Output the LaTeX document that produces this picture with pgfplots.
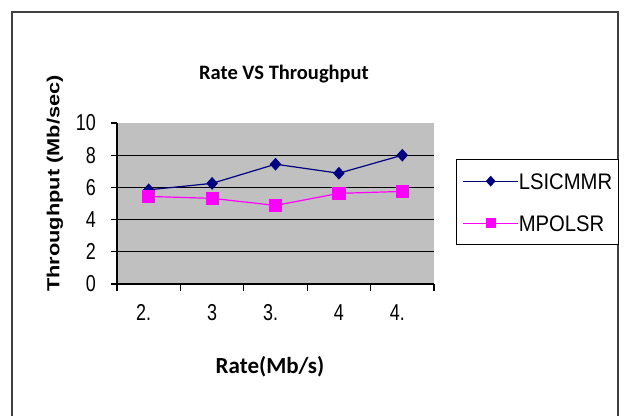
\documentclass[border=0pt]{standalone}
\usepackage{fontspec}
\setmainfont{Liberation Sans}
\newfontfamily\ticknarrow[FakeStretch=0.78]{Liberation Sans}
\newfontfamily\legnarrow[FakeStretch=0.9]{Liberation Sans}
\newfontfamily\calfont{Carlito}
\usepackage{graphicx}
\usepackage{pgfplots}
\pgfplotsset{compat=1.18}
\definecolor{plotgray}{HTML}{C0C0C0}
\definecolor{navyc}{HTML}{000080}
\definecolor{magc}{HTML}{FF00FF}
\definecolor{framegray}{HTML}{404040}

\pgfplotstableread{
x y
0 5.85
1 6.25
2 7.44
3 6.88
4 8.0
}\lsicmmr
\pgfplotstableread{
x y
0 5.44
1 5.32
2 4.88
3 5.63
4 5.75
}\mpolsr

\begin{document}
\begin{tikzpicture}[x=1bp,y=1bp]
\useasboundingbox (0,0) rectangle (627,415);
\draw[line width=2bp, framegray] (12,-5) -- (12,402.5) -- (618,402.5) -- (618,-5);
\begin{axis}[
  at={(117bp,131bp)}, anchor=south west,
  scale only axis, width=317bp, height=161bp,
  xmin=-0.5, xmax=4.5, ymin=0, ymax=10,
  axis x line*=bottom, axis y line*=left,
  axis line style={line width=1.2bp, black},
  axis background/.style={fill=plotgray},
  xtick={0,...,4},
  xticklabels={2.\phantom{5},3,3.\phantom{5},4,4.\phantom{5}},
  major x tick style={draw=none},
  minor xtick={-0.5,0.5,1.5,2.5,3.5,4.5},
  minor tick length=7bp,
  ytick={0,2,...,10},
  major tick length=6bp,
  tick align=outside,
  tick style={line width=1.2bp, black},
  extra y ticks={2,4,6,8},
  extra y tick labels={},
  extra y tick style={grid=major},
  major grid style={line width=1.3bp, black},
  /pgf/number format/assume math mode=true,
  ticklabel style={font=\ticknarrow\fontsize{23bp}{25bp}\selectfont},
  yticklabel style={anchor=east, inner sep=0pt, xshift=-15bp},
  xticklabel style={anchor=base, inner sep=0pt, yshift=-30bp},
  clip=false,
  legend style={
    at={(1.0694,0.776)}, anchor=north west,
    draw=black, line width=1.2bp, fill=white,
    inner xsep=6bp, inner ysep=13.5bp,
    row sep=26bp,
    font=\legnarrow\fontsize{22.5bp}{24bp}\selectfont,
    nodes={inner sep=0pt, text height=16bp, text depth=0bp},
    /tikz/every even column/.append style={column sep=7bp},
  },
  legend cell align=left,
  legend image post style={mark size=4.5bp},
  legend image code/.code={
    \draw[mark repeat=2,mark phase=2,#1] plot coordinates {(0bp,0bp) (27.5bp,0bp) (55bp,0bp)};
  },
]
\addplot[navyc, line width=1.2bp, mark=diamond*, mark size=5.5bp,
  mark options={fill=navyc, solid, xscale=1.2}] table[x=x,y=y] {\lsicmmr};
\addlegendentry{LSICMMR}
\addplot[magc, line width=1.2bp, mark=square*, mark size=6bp,
  mark options={fill=magc, solid}] table[x=x,y=y] {\mpolsr};
\addlegendentry{MPOLSR}
\end{axis}
\node[anchor=base, font=\calfont\bfseries\fontsize{20.5bp}{24bp}\selectfont] at (284,336) {Rate VS Throughput};
\node[anchor=base, font=\calfont\bfseries\fontsize{23bp}{26bp}\selectfont] at (270,42) {Rate(Mb/s)};
\node[rotate=90, font=\bfseries\fontsize{21.8bp}{24bp}\selectfont] at (55,231.5) {\scalebox{1}[0.8]{Throughput (Mb/sec)}};
\end{tikzpicture}
\end{document}
